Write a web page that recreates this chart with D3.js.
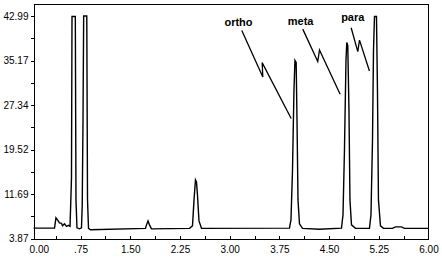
<!DOCTYPE html>
<meta charset="utf-8">
<style>
    body { margin: 0; background: #fff; }
    svg { display: block; }
    .axis text { font: 10px "Liberation Sans", Arial, sans-serif; fill: #000; }
    .axis path, .axis line { stroke: #000; shape-rendering: crispEdges; }
    .label { font: bold 11px "Liberation Sans", Arial, sans-serif; fill: #000; }
</style>
<body>
<script src="https://cdn.jsdelivr.net/npm/d3@7"></script>
<script>
// retention time (min) and detector signal
var times = [0.04, 0.357, 0.379, 0.402, 0.432, 0.462, 0.478, 0.508, 0.538, 0.568, 0.591,
    0.601, 0.613, 0.621, 0.671, 0.681, 0.696, 0.734, 0.764, 0.775, 0.787, 0.797, 0.844,
    0.855, 0.870, 0.900, 1.730, 1.745, 1.768, 1.790, 1.820, 2.394, 2.439, 2.462, 2.484,
    2.499, 2.514, 2.537, 2.575, 3.902, 3.925, 3.948, 3.970, 3.985, 4.003, 4.016, 4.031,
    4.053, 4.099, 4.355, 4.687, 4.710, 4.732, 4.755, 4.767, 4.782, 4.800, 4.815, 4.838,
    4.898, 5.109, 5.132, 5.155, 5.170, 5.185, 5.215, 5.230, 5.245, 5.275, 5.321, 5.456,
    5.502, 5.592, 5.637, 6.000];
var signal = [5.70, 5.70, 7.50, 7.15, 6.62, 6.54, 6.10, 6.45, 6.01, 6.19, 6.01,
    9.78, 14.52, 42.93, 42.93, 10.66, 5.75, 5.57, 5.75, 9.61, 24.69, 43.02, 43.02,
    10.66, 5.66, 5.40, 5.66, 6.27, 6.97, 6.27, 5.57, 5.66, 6.10, 10.66, 14.17,
    13.82, 11.54, 6.97, 5.66, 5.70, 7.15, 15.92, 29.95, 35.21, 34.86, 24.69, 10.66,
    6.45, 5.66, 5.50, 5.70, 8.03, 19.42, 35.21, 38.37, 37.85, 26.44, 10.66, 6.27,
    5.66, 5.66, 8.03, 21.18, 36.97, 42.93, 42.93, 29.95, 10.66, 6.10, 5.66, 5.66,
    5.92, 5.92, 5.66, 5.66];

var yTicks = [3.87, 11.69, 19.52, 27.34, 35.17, 42.99];
var xTicks = [0.00, 0.75, 1.50, 2.25, 3.00, 3.75, 4.50, 5.25, 6.00];
var xTickLabels = ["0.00", ".75", "1.50", "2.25", "3.00", "3.75", "4.50", "5.25", "6.00"];

// peak labels with their zig-zag leaders (time, signal)
var peakNames = ["ortho", "meta", "para"];
var labelAt = [[2.921, 41.18], [3.877, 41.41], [4.682, 42.11]];
var leaders = [
    [[3.183, 40.48], [3.500, 32.29], [3.490, 34.81], [3.928, 24.99]],
    [[4.103, 40.71], [4.329, 34.99], [4.355, 37.02], [4.667, 29.25]],
    [[4.833, 40.95], [4.933, 36.74], [4.959, 38.78], [5.109, 33.34]]
];

var width = 442, height = 258;
var plotLeft = 33.5, plotRight = 428.5, plotTop = 4.5, plotBottom = 238.5;

var svg = d3.select("body").append("svg")
    .attr("width", width)
    .attr("height", height);

var x = d3.scaleLinear().domain([0.04, 6.0]).range([plotLeft, plotRight]);
var y = d3.scaleLinear().domain([3.87, 45.04]).range([plotBottom, plotTop]);

//frame: top and right edges
svg.append("path")
    .attr("d", "M" + plotLeft + "," + plotTop + "H" + plotRight + "V" + plotBottom)
    .attr("fill", "none")
    .attr("stroke", "#000")
    .attr("shape-rendering", "crispEdges");

//y axis, minor ticks halfway between the labelled ones
var yMinor = [];
for (var i = 0; i < yTicks.length - 1; i++) yMinor.push((yTicks[i] + yTicks[i + 1]) / 2);
svg.append("g")
    .attr("class", "axis")
    .attr("transform", "translate(" + plotLeft + ",0)")
    .call(d3.axisLeft(y).tickValues(yMinor).tickSize(3).tickSizeOuter(0).tickFormat(""));
svg.append("g")
    .attr("class", "axis")
    .attr("transform", "translate(" + plotLeft + ",0)")
    .call(d3.axisLeft(y).tickValues(yTicks).tickSize(3).tickSizeOuter(0).tickPadding(2)
        .tickFormat(function(d) { return d.toFixed(2); }));

//x axis, ticks point inward
var xMinor = [];
for (var j = 1; j < 16; j++) xMinor.push(j * 0.375);
svg.append("g")
    .attr("class", "axis")
    .attr("transform", "translate(0," + plotBottom + ")")
    .call(d3.axisBottom(x).tickValues(xMinor).tickSize(-3).tickSizeOuter(0).tickFormat(""));
var xAxis = svg.append("g")
    .attr("class", "axis")
    .attr("transform", "translate(0," + plotBottom + ")")
    .call(d3.axisBottom(x).tickValues(xTicks).tickSize(0).tickSizeOuter(0).tickPadding(7)
        .tickFormat(function(d, i) { return xTickLabels[i]; }));
xAxis.select(".domain").remove();
xAxis.selectAll(".tick text").attr("dx", function(d, i) { return i == 0 ? 8 : 0; });

//the trace
var line = d3.line()
    .x(function(d) { return x(d[0]); })
    .y(function(d) { return y(d[1]); });

svg.append("path")
    .datum(d3.zip(times, signal))
    .attr("d", line)
    .attr("fill", "none")
    .attr("stroke", "#000")
    .attr("stroke-width", 1.4)
    .attr("stroke-linejoin", "miter");

//peak labels
svg.selectAll(".leader")
    .data(leaders)
    .enter()
    .append("path")
    .attr("class", "leader")
    .attr("d", line)
    .attr("fill", "none")
    .attr("stroke", "#000")
    .attr("stroke-width", 1.3);

svg.selectAll(".label")
    .data(peakNames)
    .enter()
    .append("text")
    .attr("class", "label")
    .attr("x", function(d, i) { return x(labelAt[i][0]); })
    .attr("y", function(d, i) { return y(labelAt[i][1]); })
    .text(function(d) { return d; });
</script>
</body>
